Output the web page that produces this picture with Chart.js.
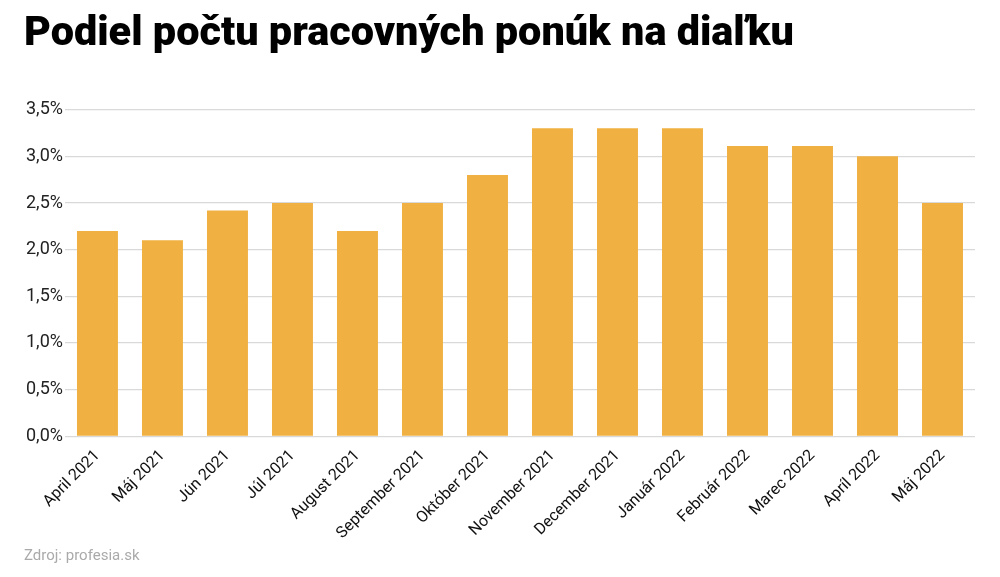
<!DOCTYPE html>
<html><head><meta charset="utf-8">
<script src="https://cdn.jsdelivr.net/npm/chart.js@4"></script>
<style>html,body{margin:0;padding:0;background:#fff}#wrap{width:1000px;height:577px}</style>
</head><body><div id="wrap"><canvas id="c"></canvas></div>
<script>
const categories = ["April 2021","Máj 2021","Jún 2021","Júl 2021","August 2021","September 2021","Október 2021","November 2021","December 2021","Január 2022","Február 2022","Marec 2022","Apríl 2022","Máj 2022"];
const shareValues = [2.2, 2.1, 2.42, 2.5, 2.2, 2.5, 2.8, 3.3, 3.3, 3.3, 3.11, 3.11, 3.0, 2.5];
const titleText = "Podiel počtu pracovných ponúk na diaľku";
const sourceText = "Zdroj: profesia.sk";

new Chart(document.getElementById('c'), {
  type: 'bar',
  data: { labels: categories, datasets: [{ data: shareValues, backgroundColor: '#F0B042', categoryPercentage: 0.63, barPercentage: 1 }] },
  options: {
    responsive: true, maintainAspectRatio: false, animation: false,
    layout: { padding: { left: 24, right: 25, top: 0, bottom: 0 } },
    plugins: {
      legend: { display: false }, tooltip: { enabled: false },
      title: { display: true, text: titleText, align: 'start', color: '#000',
        font: { family: 'Roboto', size: 41.4, weight: '900' }, padding: { top: 10, bottom: 50 } },
      subtitle: { display: true, text: sourceText, position: 'bottom', align: 'start', color: '#aaa',
        font: { family: 'Roboto', size: 15 }, padding: { top: 2, bottom: 12 } }
    },
    scales: {
      x: { grid: { display: false }, border: { display: false },
        ticks: { color: '#111', font: { family: 'Roboto', size: 16 }, maxRotation: 45, minRotation: 45, padding: 2 } },
      y: { min: 0, max: 3.5, grid: { color: '#d9d9d9', lineWidth: 1.2, drawTicks: false }, border: { display: false },
        ticks: { stepSize: 0.5, color: '#222', padding: 2, font: { family: 'Roboto', size: 18 },
          callback: v => v.toFixed(1).replace('.', ',') + '%' } }
    }
  }
});
</script></body></html>
